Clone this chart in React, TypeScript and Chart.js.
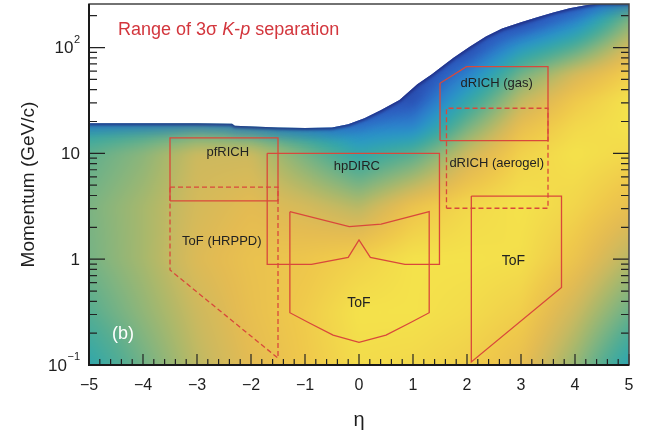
import React, { useEffect, useRef } from "react";
import { Chart, registerables } from "chart.js";

Chart.register(...registerables);

const FONT = '"Liberation Sans", Arial, Helvetica, sans-serif';
const BOX_RED = "#d9483b";
const TITLE_RED = "#d3363d";
const INK = "#1e1e1e";

// ---- axes ----
const etaMin = -5;
const etaMax = 5;
const pMin = 0.1;
const pMax = 258;
const xTickValues = [-5, -4, -3, -2, -1, 0, 1, 2, 3, 4, 5];
const yTickValues = [0.1, 1, 10, 100];
const yTickBase = ["10", "1", "10", "10"];
const yTickExp = ["\u22121", "", "", "2"];

// ---- upper edge of the separation region (eta, p in GeV/c) ----
const edgeEta = [-5, -3.0, -2.35, -2.3, -1.5, -1.0, -0.5, -0.2, 0.1, 0.4, 0.75, 1.08, 1.35, 1.5, 1.75, 2.05, 2.35, 2.65, 3.0, 3.3, 3.6, 3.9, 4.2, 4.45, 5];
const edgeP = [19.3, 19.3, 19.0, 18.2, 17.6, 17.4, 17.6, 18.8, 21.5, 25.5, 32, 45, 56, 64, 80, 102, 127, 151, 173, 193, 215, 235, 251, 262, 262];

// ---- separation-level map (0 = dark blue, 1 = yellow) ----
const gridEta = [-5, -4, -3, -2, -1, 0, 1, 2, 3, 4, 5];
const gridP = [0.1, 0.316, 1, 3.16, 10, 17.8, 31.6, 56.2, 100, 178, 282];
const levelAtP0p1 = [0.48, 0.63, 0.77, 0.86, 0.92, 0.98, 0.97, 0.94, 0.88, 0.7, 0.46];
const levelAtP0p3 = [0.58, 0.69, 0.8, 0.88, 0.93, 1.0, 1.0, 0.98, 0.94, 0.8, 0.62];
const levelAtP1 = [0.64, 0.73, 0.84, 0.89, 0.91, 0.95, 1.0, 1.0, 0.99, 0.9, 0.76];
const levelAtP3 = [0.65, 0.73, 0.82, 0.86, 0.82, 0.76, 0.9, 0.97, 1.0, 0.96, 0.88];
const levelAtP10 = [0.6, 0.68, 0.8, 0.8, 0.64, 0.48, 0.58, 0.8, 0.95, 1.0, 0.97];
const levelAtP18 = [0.46, 0.52, 0.58, 0.54, 0.44, 0.3, 0.32, 0.64, 0.88, 0.97, 1.0];
const levelAtP32 = [0.12, 0.12, 0.12, 0.12, 0.12, 0.1, 0.14, 0.48, 0.78, 0.92, 1.0];
const levelAtP56 = [0.05, 0.05, 0.05, 0.05, 0.05, 0.05, 0.05, 0.3, 0.64, 0.82, 0.94];
const levelAtP100 = [0.05, 0.05, 0.05, 0.05, 0.05, 0.05, 0.05, 0.1, 0.4, 0.58, 0.82];
const levelAtP178 = [0.05, 0.05, 0.05, 0.05, 0.05, 0.05, 0.05, 0.05, 0.1, 0.32, 0.66];
const levelAtP282 = [0.05, 0.05, 0.05, 0.05, 0.05, 0.05, 0.05, 0.05, 0.05, 0.12, 0.52];
const levelRows = [levelAtP0p1, levelAtP0p3, levelAtP1, levelAtP3, levelAtP10, levelAtP18, levelAtP32, levelAtP56, levelAtP100, levelAtP178, levelAtP282];

const cmapPos = [0, 0.08, 0.18, 0.3, 0.4, 0.5, 0.58, 0.66, 0.74, 0.8, 0.86, 0.92, 1.0];
const cmapHex = ["#1c2270", "#253a98", "#2c5cc0", "#2c80cc", "#2a9ac4", "#36a8a6", "#55ad92", "#80b480", "#acb86a", "#cdb95e", "#e4bb52", "#efc84b", "#f4e24b"];

// ---- detector outlines ----
const pfRichEta = [-3.5, -1.5, -1.5, -3.5, -3.5];
const pfRichP = [3.55, 3.55, 14, 14, 3.55];
const hrppdEta = [-3.5, -1.5, -1.5, -3.5, -3.5];
const hrppdP = [4.8, 4.8, 0.116, 0.79, 4.8];
const hpDircEta = [-1.7, 1.49, 1.49, 0.85, 0.21, 0.0, -0.2, -0.88, -1.7, -1.7];
const hpDircP = [10, 10, 0.895, 0.895, 1.04, 1.52, 1.04, 0.895, 0.895, 10];
const tofBarrelEta = [-1.28, -0.18, 0.41, 1.3, 1.3, 0.93, 0.5, 0.0, -0.48, -0.91, -1.28, -1.28];
const tofBarrelP = [2.81, 2.03, 2.14, 2.81, 0.312, 0.248, 0.192, 0.164, 0.192, 0.248, 0.312, 2.81];
const dRichGasEta = [1.5, 3.5, 3.5, 1.99, 1.5, 1.5];
const dRichGasP = [13.2, 13.2, 66, 66, 46, 13.2];
const dRichAeroEta = [1.62, 3.5, 3.5, 1.62, 1.62];
const dRichAeroP = [3.03, 3.03, 26.7, 26.7, 3.03];
const tofFwdEta = [2.08, 3.75, 3.75, 2.08, 2.08];
const tofFwdP = [3.95, 3.95, 0.54, 0.107, 3.95];

// ---- labels ----
const labelText = ["pfRICH", "hpDIRC", "ToF (HRPPD)", "ToF", "ToF", "dRICH (gas)", "dRICH (aerogel)"];
const labelEta = [-2.43, -0.04, -2.54, 0.0, 2.86, 2.55, 2.55];
const labelP = [10.3, 7.6, 1.46, 0.385, 0.96, 46, 8.1];
const labelSize = [13, 13, 13, 14, 14, 13, 13];
const panelTag = "(b)";
const panelTagEta = -4.37;
const panelTagP = 0.196;

function hexToRgb(h: string): number[] {
  return [parseInt(h.slice(1, 3), 16), parseInt(h.slice(3, 5), 16), parseInt(h.slice(5, 7), 16)];
}
const cmapRgb = cmapHex.map(hexToRgb);

function colorOf(level: number): number[] {
  const l = Math.max(0, Math.min(1, level));
  for (let i = 0; i < cmapPos.length - 1; i++) {
    if (l <= cmapPos[i + 1]) {
      const t = (l - cmapPos[i]) / (cmapPos[i + 1] - cmapPos[i]);
      const a = cmapRgb[i];
      const b = cmapRgb[i + 1];
      return [a[0] + (b[0] - a[0]) * t, a[1] + (b[1] - a[1]) * t, a[2] + (b[2] - a[2]) * t];
    }
  }
  return cmapRgb[cmapRgb.length - 1];
}

function findCell(arr: number[], v: number): [number, number] {
  if (v <= arr[0]) return [0, 0];
  if (v >= arr[arr.length - 1]) return [arr.length - 2, 1];
  for (let i = 0; i < arr.length - 1; i++) {
    if (v < arr[i + 1]) return [i, (v - arr[i]) / (arr[i + 1] - arr[i])];
  }
  return [arr.length - 2, 1];
}

const gridLogP = gridP.map((v) => Math.log10(v));

const heatmapPlugin = {
  id: "heatmap",
  beforeDatasetsDraw(chart: any) {
    const { ctx, chartArea: ca, scales } = chart;
    const xs = scales.x;
    const ys = scales.y;
    const M = 16;
    const w = Math.ceil(ca.right - ca.left) + 2 * M;
    const h = Math.ceil(ca.bottom - ca.top) + 2 * M;
    const off = document.createElement("canvas");
    off.width = w;
    off.height = h;
    const octx = off.getContext("2d")!;
    const img = octx.createImageData(w, h);
    const cols: [number, number][] = [];
    for (let x = 0; x < w; x++) {
      const eta = xs.getValueForPixel(ca.left - M + x + 0.5);
      cols.push(findCell(gridEta, eta));
    }
    for (let y = 0; y < h; y++) {
      const p = ys.getValueForPixel(ca.top - M + y + 0.5);
      const [j, ty] = findCell(gridLogP, Math.log10(p));
      const r0 = levelRows[j];
      const r1 = levelRows[j + 1];
      for (let x = 0; x < w; x++) {
        const [i, tx] = cols[x];
        const lo = r0[i] * (1 - tx) + r0[i + 1] * tx;
        const hi = r1[i] * (1 - tx) + r1[i + 1] * tx;
        const c = colorOf(lo * (1 - ty) + hi * ty);
        const k = (y * w + x) * 4;
        img.data[k] = c[0];
        img.data[k + 1] = c[1];
        img.data[k + 2] = c[2];
        img.data[k + 3] = 255;
      }
    }
    octx.putImageData(img, 0, 0);

    const pts = edgeEta.map((e, i) => [xs.getPixelForValue(e), ys.getPixelForValue(edgeP[i])]);
    ctx.save();
    ctx.beginPath();
    ctx.rect(ca.left, ca.top, ca.right - ca.left, ca.bottom - ca.top);
    ctx.clip();
    ctx.beginPath();
    ctx.moveTo(ca.left - M, pts[0][1]);
    pts.forEach((q) => ctx.lineTo(q[0], q[1]));
    ctx.lineTo(ca.right + M, pts[pts.length - 1][1]);
    ctx.lineTo(ca.right + M, ca.bottom + M);
    ctx.lineTo(ca.left - M, ca.bottom + M);
    ctx.closePath();
    ctx.clip();
    ctx.filter = "blur(4px)";
    ctx.drawImage(off, ca.left - M, ca.top - M);
    const edgePath = () => {
      ctx.beginPath();
      ctx.moveTo(ca.left - M, pts[0][1]);
      pts.forEach((q) => ctx.lineTo(q[0], q[1]));
      ctx.lineTo(ca.right + M, pts[pts.length - 1][1]);
    };
    ctx.filter = "blur(5px)";
    ctx.strokeStyle = "rgba(44,90,190,0.45)";
    ctx.lineWidth = 18;
    edgePath();
    ctx.stroke();
    ctx.filter = "blur(1.5px)";
    ctx.strokeStyle = "rgba(30,40,125,0.85)";
    ctx.lineWidth = 4;
    edgePath();
    ctx.stroke();
    ctx.restore();
  },
};

const framePlugin = {
  id: "frame",
  afterDatasetsDraw(chart: any) {
    const { ctx, chartArea: ca, scales } = chart;
    const xs = scales.x;
    const ys = scales.y;
    ctx.save();
    ctx.strokeStyle = "#222";
    ctx.lineWidth = 1.2;
    // x ticks (inside, bottom)
    for (let i = 0; i < xTickValues.length; i++) {
      const v = xTickValues[i];
      const px = xs.getPixelForValue(v);
      ctx.beginPath();
      ctx.moveTo(px, ca.bottom);
      ctx.lineTo(px, ca.bottom - 11);
      ctx.stroke();
      if (i < xTickValues.length - 1) {
        for (let k = 1; k < 5; k++) {
          const m = xs.getPixelForValue(v + (k * (xTickValues[i + 1] - v)) / 5);
          ctx.beginPath();
          ctx.moveTo(m, ca.bottom);
          ctx.lineTo(m, ca.bottom - 6);
          ctx.stroke();
        }
      }
    }
    // y ticks (inside, left and right)
    yTickValues.forEach((d) => {
      const py = ys.getPixelForValue(d);
      ctx.beginPath();
      ctx.moveTo(ca.left, py);
      ctx.lineTo(ca.left + 16, py);
      ctx.moveTo(ca.right, py);
      ctx.lineTo(ca.right - 16, py);
      ctx.stroke();
      for (let k = 2; k <= 9; k++) {
        const v = d * k;
        if (v > pMax) break;
        const m = ys.getPixelForValue(v);
        ctx.beginPath();
        ctx.moveTo(ca.left, m);
        ctx.lineTo(ca.left + 8, m);
        ctx.moveTo(ca.right, m);
        ctx.lineTo(ca.right - 8, m);
        ctx.stroke();
      }
    });
    // frame
    ctx.strokeStyle = "#444";
    ctx.lineWidth = 1.5;
    ctx.strokeRect(ca.left, ca.top, ca.right - ca.left, ca.bottom - ca.top);
    ctx.strokeStyle = "#1a1a1a";
    ctx.lineWidth = 2;
    ctx.beginPath();
    ctx.moveTo(ca.left, ca.top);
    ctx.lineTo(ca.left, ca.bottom);
    ctx.lineTo(ca.right, ca.bottom);
    ctx.stroke();

    // y tick labels with superscripts
    ctx.fillStyle = INK;
    ctx.textBaseline = "middle";
    ctx.textAlign = "right";
    yTickValues.forEach((v, i) => {
      const py = ys.getPixelForValue(v);
      let right = ca.left - 9;
      if (yTickExp[i]) {
        ctx.font = `11px ${FONT}`;
        ctx.fillText(yTickExp[i], right, py - 8);
        right -= ctx.measureText(yTickExp[i]).width + 0.5;
      }
      ctx.font = `17px ${FONT}`;
      ctx.fillText(yTickBase[i], right, py + 1);
    });

    // detector labels
    ctx.textAlign = "center";
    ctx.textBaseline = "middle";
    ctx.fillStyle = "#222";
    labelText.forEach((t, i) => {
      ctx.font = `${labelSize[i]}px ${FONT}`;
      ctx.fillText(t, xs.getPixelForValue(labelEta[i]), ys.getPixelForValue(labelP[i]));
    });
    ctx.fillStyle = "#ffffff";
    ctx.font = `18px ${FONT}`;
    ctx.fillText(panelTag, xs.getPixelForValue(panelTagEta), ys.getPixelForValue(panelTagP));

    // title annotation
    ctx.textAlign = "left";
    ctx.textBaseline = "alphabetic";
    ctx.fillStyle = TITLE_RED;
    const parts: [string, boolean][] = [["Range of 3\u03c3 ", false], ["K", true], ["-", false], ["p", true], [" separation", false]];
    let tx = ca.left + 29;
    const ty = ca.top + 31;
    parts.forEach(([s, it]) => {
      ctx.font = `${it ? "italic " : ""}18px ${FONT}`;
      ctx.fillText(s, tx, ty);
      tx += ctx.measureText(s).width;
    });
    ctx.restore();
  },
};

const zip = (xsArr: number[], ysArr: number[]) => xsArr.map((x, i) => ({ x, y: ysArr[i] }));
const outline = (label: string, e: number[], p: number[], dashed: boolean) => ({
  label,
  data: zip(e, p),
  showLine: true,
  borderColor: BOX_RED,
  backgroundColor: BOX_RED,
  borderWidth: 1.3,
  borderDash: dashed ? [5, 3] : [],
  pointRadius: 0,
  pointHoverRadius: 0,
  fill: false,
  tension: 0,
});

export default function App() {
  const ref = useRef<HTMLCanvasElement>(null);
  useEffect(() => {
    const canvas = ref.current!;
    const chart = new Chart(canvas, {
      type: "scatter",
      data: {
        datasets: [
          outline("pfRICH", pfRichEta, pfRichP, false),
          outline("ToF (HRPPD)", hrppdEta, hrppdP, true),
          outline("hpDIRC", hpDircEta, hpDircP, false),
          outline("ToF", tofBarrelEta, tofBarrelP, false),
          outline("dRICH (gas)", dRichGasEta, dRichGasP, false),
          outline("dRICH (aerogel)", dRichAeroEta, dRichAeroP, true),
          outline("ToF fwd", tofFwdEta, tofFwdP, false),
        ] as any,
      },
      options: {
        animation: false,
        responsive: false,
        maintainAspectRatio: false,
        events: [],
        layout: { padding: { left: 0, right: 16, top: 4, bottom: 0 }, autoPadding: false } as any,
        plugins: { legend: { display: false }, tooltip: { enabled: false } },
        scales: {
          x: {
            type: "linear",
            min: etaMin,
            max: etaMax,
            grid: { display: false, drawTicks: false },
            border: { display: false },
            afterBuildTicks: (s: any) => {
              s.ticks = xTickValues.map((v) => ({ value: v }));
            },
            afterFit: (s: any) => {
              s.height = 72;
            },
            ticks: {
              autoSkip: false,
              maxRotation: 0,
              padding: 11,
              color: INK,
              font: { size: 16, family: FONT },
              callback: (v: any) => (Number(v) < 0 ? "\u2212" + Math.abs(Number(v)) : String(v)),
            },
            title: { display: true, text: "\u03b7", color: INK, font: { size: 20, family: FONT }, padding: { top: 0, bottom: 5 } },
          },
          y: {
            type: "logarithmic",
            min: pMin,
            max: pMax,
            grid: { display: false, drawTicks: false },
            border: { display: false },
            afterBuildTicks: (s: any) => {
              s.ticks = yTickValues.map((v) => ({ value: v }));
            },
            afterFit: (s: any) => {
              s.width = 89;
            },
            ticks: { display: false },
            title: { display: true, text: "Momentum (GeV/c)", color: INK, font: { size: 19, family: FONT }, padding: { top: 17, bottom: 0 } },
          },
        },
      } as any,
      plugins: [heatmapPlugin, framePlugin],
    });
    return () => chart.destroy();
  }, []);
  return (
    <canvas
      ref={ref}
      width={645}
      height={437}
      style={{ position: "fixed", left: 0, top: 0, width: 645, height: 437, display: "block" }}
    />
  );
}
